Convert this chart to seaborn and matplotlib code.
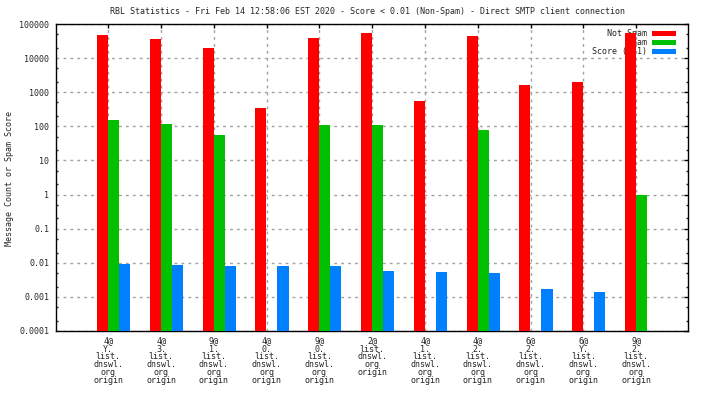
import numpy as np
import pandas as pd
import matplotlib
matplotlib.use("Agg")
import matplotlib.pyplot as plt
from matplotlib.patches import Patch
from matplotlib.ticker import FixedLocator, LogLocator, NullFormatter
import seaborn as sns

# Datos
hosts = [
    "4@\nY.\nlist.\ndnswl.\norg\norigin",
    "4@\n3.\nlist.\ndnswl.\norg\norigin",
    "9@\n1.\nlist.\ndnswl.\norg\norigin",
    "4@\n0.\nlist.\ndnswl.\norg\norigin",
    "9@\n0.\nlist.\ndnswl.\norg\norigin",
    "2@\nlist.\ndnswl.\norg\norigin",
    "4@\n1.\nlist.\ndnswl.\norg\norigin",
    "4@\n2.\nlist.\ndnswl.\norg\norigin",
    "6@\n2.\nlist.\ndnswl.\norg\norigin",
    "6@\nY.\nlist.\ndnswl.\norg\norigin",
    "9@\n2.\nlist.\ndnswl.\norg\norigin",
]
not_spam = [49000, 37000, 20000, 345, 40000, 55000, 555, 45000, 1640, 2000, 55000]
spam = [153, 117, 55, np.nan, 109, 109, np.nan, 77, np.nan, np.nan, 1.0]
score = [0.0095, 0.0089, 0.0083, 0.0083, 0.0078, 0.0059, 0.0052, 0.0049, 0.0017, 0.0014, np.nan]

series = ["Not Spam", "Spam", "Score (0.1)"]
colors = ["#ff0000", "#00c000", "#0080ff"]
ytick_vals = [1e-4, 1e-3, 1e-2, 1e-1, 1, 10, 100, 1000, 10000, 100000]
ytick_labels = ["0.0001", "0.001", "0.01", "0.1", "1", "10", "100", "1000", "10000", "100000"]

title = ("RBL Statistics - Fri Feb 14 12:58:06 EST 2020 - Score < 0.01 (Non-Spam)"
         " - Direct SMTP client connection")

df = pd.DataFrame({
    "host": hosts * 3,
    "series": np.repeat(series, len(hosts)),
    "value": not_spam + spam + score,
})

sns.set_style("white")
plt.rcParams["font.family"] = ["DejaVu Sans Mono"]
plt.rcParams["font.size"] = 6

fig = plt.figure(figsize=(7.04, 3.96), dpi=100)
ax = fig.add_axes([56 / 704, 1 - 331 / 396, (688 - 56) / 704, (331 - 24) / 396])

sns.barplot(data=df, x="host", y="value", hue="series", order=hosts,
            hue_order=series, palette=dict(zip(series, colors)),
            width=0.63, saturation=1, errorbar=None, legend=False,
            linewidth=0, zorder=3, ax=ax)

ax.set_yscale("log")
ax.set_ylim(1e-4, 1e5)
ax.set_xlim(-1.09, 10.88)
ax.yaxis.set_major_locator(FixedLocator(ytick_vals))
ax.set_yticklabels(ytick_labels)
ax.yaxis.set_minor_locator(LogLocator(base=10, subs=(2, 5)))
ax.yaxis.set_minor_formatter(NullFormatter())

ax.set_xticks(np.arange(len(hosts)) - 0.1)
ax.set_xticklabels(hosts, linespacing=0.85)
ax.set_xlabel("")
ax.set_ylabel("")

ax.tick_params(axis="both", which="major", direction="in", length=3,
               width=1, color="black", top=True, right=True)
ax.tick_params(axis="y", which="minor", direction="in", length=1.5,
               width=1, left=True, right=True)
ax.tick_params(axis="x", pad=4)
ax.tick_params(axis="y", pad=5)

ax.grid(True, which="major", linestyle=(0, (2, 3)), color="#a0a0a0", linewidth=1)
ax.set_axisbelow(True)
for s in ax.spines.values():
    s.set_color("black")
    s.set_linewidth(1)

# leyenda por debajo de las barras, como en gnuplot
handles = [Patch(facecolor=c, edgecolor="none") for c in colors]
leg = ax.legend(handles, series, loc="upper right", frameon=False,
                bbox_to_anchor=(1 - 9 / 632, 1 - 2 / 307), borderaxespad=0,
                markerfirst=False, handlelength=2.8, handleheight=0.5,
                handletextpad=0.6, labelspacing=0.0)
leg.set_zorder(1)

fig.text(368 / 704, 1 - 12 / 396, title, ha="center", va="center")
fig.text(10 / 704, 1 - 178 / 396, "Message Count or Spam Score",
         rotation=90, ha="center", va="center")

fig.savefig("out.png", dpi=100)
